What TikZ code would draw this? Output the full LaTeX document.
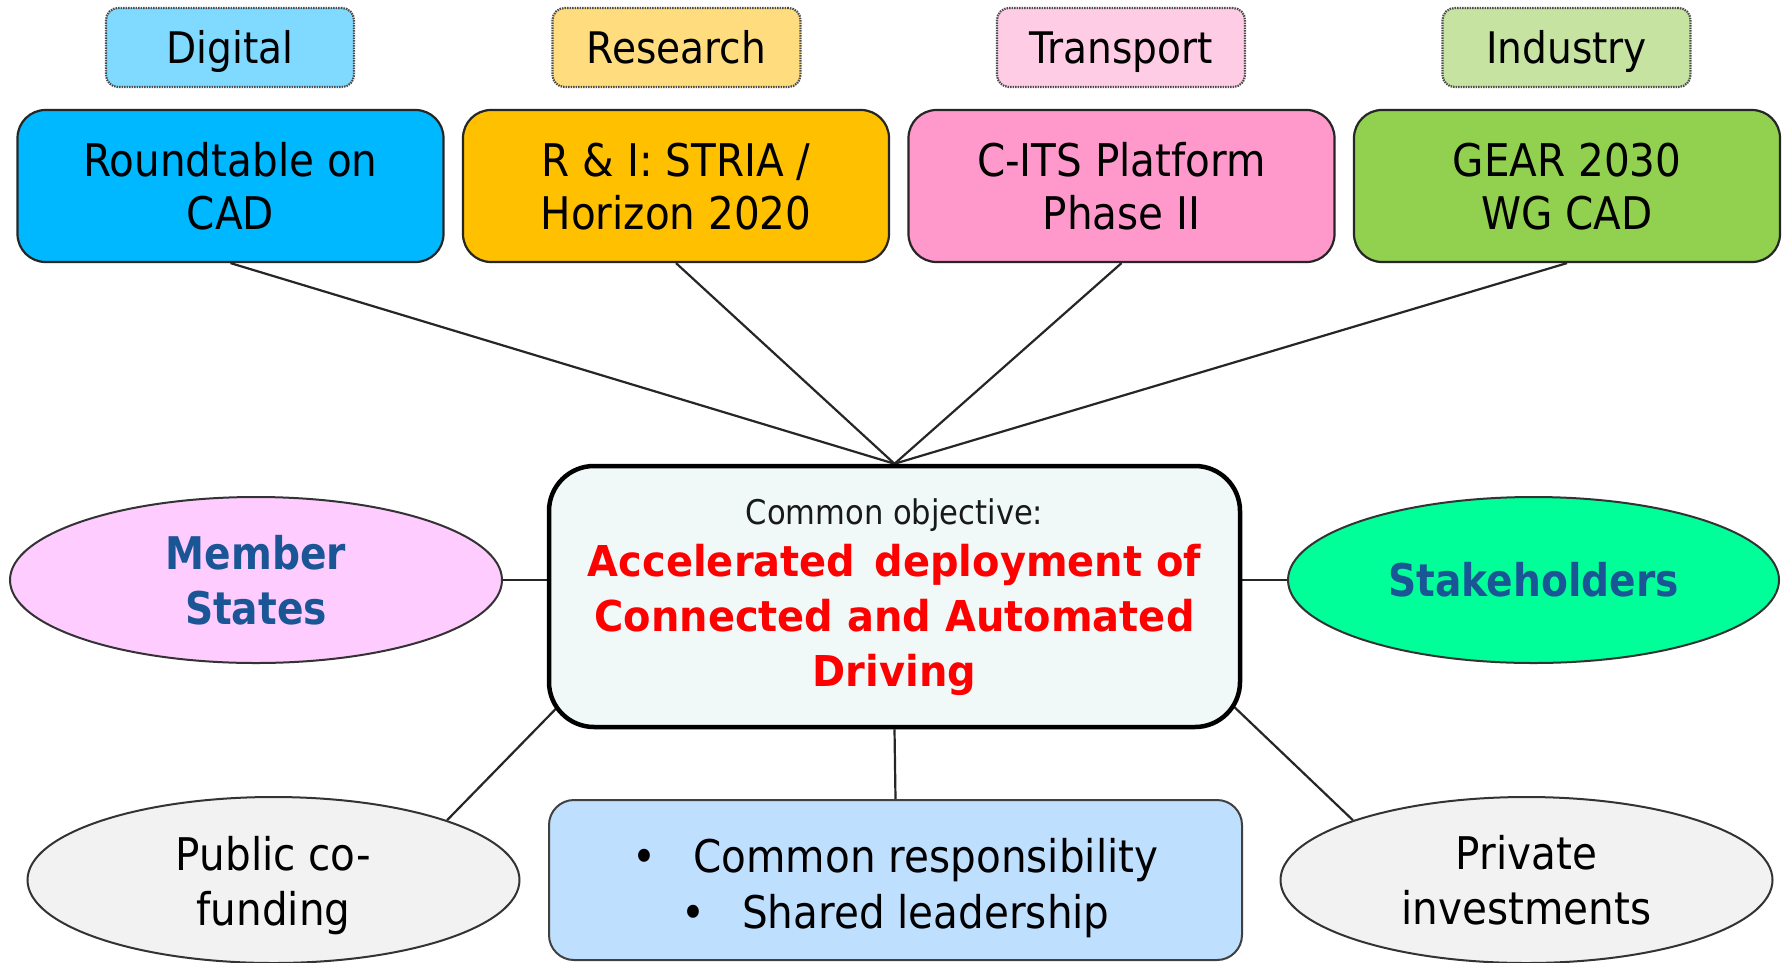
\documentclass[tikz,border=0pt]{standalone}
\usepackage{fontspec}
\setmainfont{DejaVu Sans}
\newfontfamily\fr{DejaVu Sans}[FakeStretch=0.9]
\newfontfamily\fb{DejaVu Sans}[FakeStretch=0.87]
\newfontfamily\fred{DejaVu Sans}[FakeStretch=0.94]
\usetikzlibrary{shapes.geometric,backgrounds,calc}
\definecolor{digL}{HTML}{80D9FF}
\definecolor{resL}{HTML}{FFDD7F}
\definecolor{traL}{HTML}{FFCCE5}
\definecolor{indL}{HTML}{C6E3A1}
\definecolor{digB}{HTML}{00B8FF}
\definecolor{resB}{HTML}{FFC000}
\definecolor{traB}{HTML}{FF99CC}
\definecolor{indB}{HTML}{92D050}
\definecolor{cfill}{HTML}{F0F8F8}
\definecolor{msfill}{HTML}{FFCCFF}
\definecolor{skfill}{HTML}{00FF99}
\definecolor{gfill}{HTML}{F2F2F2}
\definecolor{bbfill}{HTML}{BFDFFF}
\definecolor{tblue}{HTML}{1A5596}
\begin{document}
\begin{tikzpicture}[x=1pt,y=-1pt,
  lbl/.style={rounded corners=12pt, draw=black!70, line width=2.2pt,
    dash pattern=on 1.5pt off 1pt, minimum width=248pt, minimum height=79pt,
    inner sep=0pt, text height=33pt, text depth=2pt,
    font=\fr\fontsize{43.5}{52}\selectfont},
  mbox/.style={rounded corners=28pt, draw=black!85, line width=2.2pt,
    minimum width=426pt, minimum height=152pt, inner sep=0pt, align=center,
    font=\fr\fontsize{45}{53}\selectfont},
  ell/.style={ellipse, draw=black!80, line width=2pt, minimum width=492pt,
    minimum height=166pt, inner sep=0pt, align=center},
  cboxst/.style={rounded corners=45pt, draw=black, line width=4.5pt, fill=cfill,
    minimum width=691pt, minimum height=261pt, inner sep=0pt, align=center,
    text=red, font=\fred\bfseries\fontsize{42.5}{55}\selectfont},
  bboxst/.style={rounded corners=25pt, draw=black!75, line width=2pt, fill=bbfill,
    minimum width=693pt, minimum height=160pt, inner sep=0pt, align=center,
    font=\fr\fontsize{45}{56}\selectfont},
  conn/.style={draw=black!85, line width=2.2pt}]
\clip (0,0) rectangle (1783,962);
% top labels
\node[lbl, fill=digL] (tdig) at (230,47.5) {Digital};
\node[lbl, fill=resL] (tres) at (676.5,47.5) {Research};
\node[lbl, fill=traL] (ttra) at (1121,47.5) {Transport};
\node[lbl, fill=indL] (tind) at (1566.5,47.5) {Industry};
% main boxes
\node[mbox, fill=digB] (bdig) at (230.5,186) {\rule{0pt}{35pt}Roundtable on\\CAD};
\node[mbox, fill=resB] (bres) at (676,186) {\rule{0pt}{35pt}R \& I: STRIA /\\Horizon 2020};
\node[mbox, fill=traB] (btra) at (1121.5,186) {\rule{0pt}{35pt}C-ITS Platform\\Phase II};
\node[mbox, fill=indB] (bind) at (1567,186) {\rule{0pt}{35pt}GEAR 2030\\WG CAD};
% central box
\node[cboxst] (cbox) at (894.5,596.5)
  {{\color{black!90}\fr\mdseries\fontsize{34}{40}\selectfont\rule{0pt}{27pt}Common objective:}\\[-3pt]
   Accelerated\hspace{0.45em}deployment of\\Connected and Automated\\Driving};
% side ellipses
\node[ell, fill=msfill, text=tblue, font=\fb\bfseries\fontsize{45}{55}\selectfont]
  (ms) at (256,580) {Member\\States};
\node[ell, fill=skfill, text=tblue, minimum width=491pt, text height=32pt, text depth=0pt,
  font=\fb\bfseries\fontsize{45}{55}\selectfont] (sk) at (1533.5,580) {Stakeholders};
% bottom
\node[ell, fill=gfill, font=\fr\fontsize{45}{55}\selectfont]
  (pub) at (273.5,880) {\rule{0pt}{45.6pt}Public co-\\funding};
\node[ell, fill=gfill, font=\fr\fontsize{45}{55}\selectfont]
  (priv) at (1526.5,880) {\rule{0pt}{35pt}Private\\investments};
\node[bboxst] (bb) at (895.5,880)
  {\rule{0pt}{50.6pt}\textbullet\hspace{37pt}Common responsibility\\\textbullet\hspace{37pt}Shared leadership};
% connectors
\begin{scope}[on background layer]
\fill[white] (0,0) rectangle (1783,962);
\draw[conn] (bdig.south) -- (cbox.north);
\draw[conn] (bres.south) -- (cbox.north);
\draw[conn] (btra.south) -- (cbox.north);
\draw[conn] (bind.south) -- (cbox.north);
\draw[conn] (ms.east) -- (ms.east -| cbox.west);
\draw[conn] (sk.west) -- (sk.west -| cbox.east);
\draw[conn] (cbox.south) -- (bb.north);
\draw[conn] (pub.19) -- ($(cbox.south west)+(35,-47)$);
\draw[conn] (priv.161.5) -- ($(cbox.south east)+(-36,-49)$);
\end{scope}
\end{tikzpicture}
\end{document}
